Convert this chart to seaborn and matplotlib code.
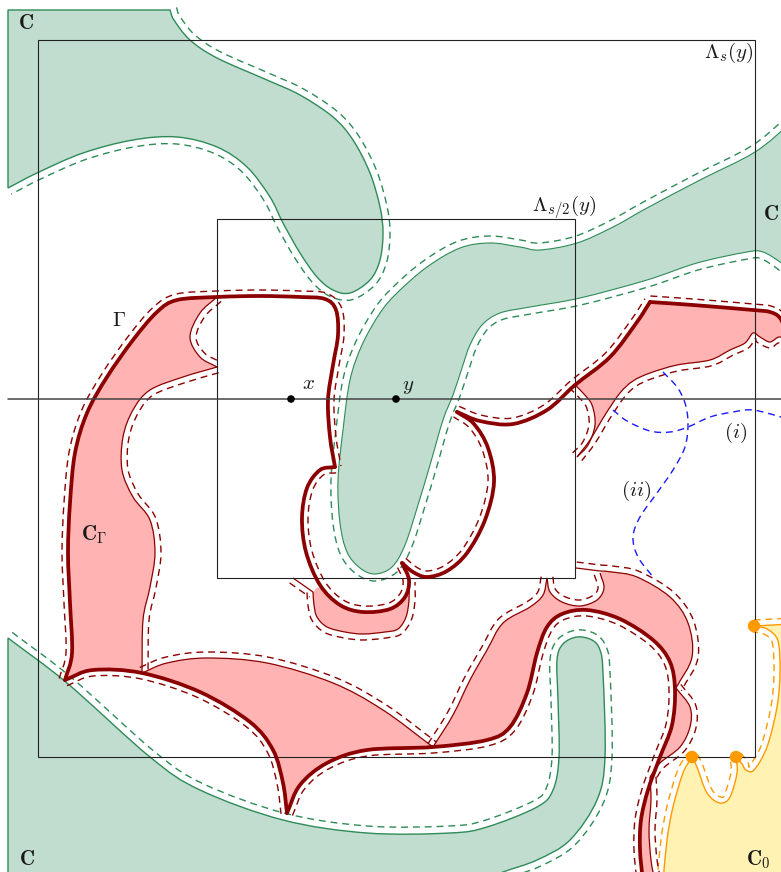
import numpy as np
import matplotlib
matplotlib.use("Agg")
import matplotlib.pyplot as plt
from matplotlib.path import Path
from matplotlib.patches import PathPatch
import seaborn as sns

# ====== DATA (pixel coordinates, y pointing down) ======
OUTER_BOX = (38, 40, 755, 757)
INNER_BOX = (217, 219, 575, 578)
AXIS_Y = 399
AXIS_X = [8, 781]
PT_NAMES = ["x", "y"]
PT_X = [291, 396]
DOT_X = [754, 692, 736]
DOT_Y = [626, 757, 757]

# green region C (top left)
GREEN_TOP_EDGE = [(8, 10), (170, 10)]
GREEN_TOP_CURVE = [(170, 10), (174, 20), (190, 40), (217, 58), (267, 80), (300, 95), (333, 117),
                   (353, 140), (370, 173), (380, 207), (383, 233), (380, 260), (370, 280),
                   (350, 293), (333, 290), (317, 277), (300, 253), (283, 223), (270, 197),
                   (247, 167), (217, 147), (177, 137), (133, 140), (83, 153), (37, 173), (8, 188)]
GREEN_TOP_BACK = [(8, 188), (8, 10)]
# green region C (middle band)
GREEN_MID = [(792, 122), (755, 152), (700, 180), (647, 208), (613, 227), (577, 243), (540, 250),
             (520, 247), (490, 243), (460, 248), (427, 267), (397, 293), (380, 313), (362, 345),
             (350, 380), (343, 430), (338, 480), (340, 523), (347, 552), (360, 568), (375, 574),
             (392, 567), (405, 545), (418, 505), (430, 465), (443, 420), (453, 395), (462, 368),
             (470, 345), (482, 325), (500, 313), (530, 307), (580, 298), (647, 280), (697, 263),
             (747, 252), (763, 252), (780, 262), (792, 272)]
GREEN_MID_BACK = [(792, 272), (792, 122)]
# green region C (bottom left)
GREEN_BOT = [(8, 638), (67, 683), (150, 757), (200, 790), (283, 820), (367, 833), (450, 833),
             (487, 827), (537, 807), (553, 790), (559, 757), (558, 700), (557, 660), (563, 644),
             (577, 637), (592, 640), (600, 650), (603, 673), (605, 757), (597, 800), (570, 840),
             (537, 860), (503, 872), (480, 882)]
GREEN_BOT_FLOOR = [(480, 882), (8, 882)]
GREEN_BOT_SIDE = [(8, 882), (8, 638)]

# yellow region C_0
YEL_1 = [(663, 882), (667, 840), (673, 807), (683, 773), (692, 757)]
YEL_2 = [(692, 757), (697, 767), (707, 793), (720, 803), (730, 797), (737, 773), (736, 757)]
YEL_3 = [(736, 757), (742, 764), (746, 770), (754, 770), (767, 747), (777, 707), (780, 673),
         (778, 641), (767, 629), (754, 626)]
YEL_4 = [(754, 626), (792, 624)]
YEL_SIDE = [(792, 624), (792, 882)]
YEL_FLOOR = [(792, 882), (663, 882)]

# thick curve Gamma
G_A = [(65, 680), (72, 653), (70, 603), (68, 553), (70, 503), (75, 453), (87, 413), (107, 377),
       (133, 340), (157, 312), (177, 300), (217, 297), (260, 296), (300, 297), (325, 299),
       (336, 310), (338, 335), (333, 365), (328, 400), (330, 437), (335, 467)]
G_B = [(335, 467), (320, 470), (307, 488), (302, 518), (306, 552), (320, 585), (340, 605),
       (363, 612), (390, 609), (405, 597), (409, 580), (402, 563)]
G_C = [(402, 563), (413, 572), (427, 577), (447, 571), (467, 553), (485, 520), (494, 482),
       (488, 448), (474, 424), (457, 412)]
G_D = [(457, 412), (480, 421), (513, 424), (547, 410), (575, 385), (610, 357), (637, 322), (650, 302)]
G_E = [(650, 302), (693, 305), (753, 310), (770, 312), (780, 318), (788, 335)]
G_F = [(65, 680), (93, 670), (142, 673), (200, 692), (250, 722), (273, 750), (283, 783), (287, 813)]
G_G = [(287, 813), (300, 785), (327, 763), (367, 750), (433, 747), (487, 740), (510, 727),
       (527, 693), (537, 653), (547, 627), (562, 614), (587, 610), (620, 619), (653, 640),
       (670, 662), (675, 690), (672, 725), (660, 757), (648, 790), (641, 820), (640, 850), (643, 882)]

# thin edges of C_Gamma
A_LOBE = [(217, 297), (200, 313), (190, 337), (200, 357), (217, 367)]
A_SIDE = [(217, 367), (183, 377), (150, 390), (133, 410), (123, 437), (122, 470), (133, 497),
          (150, 520), (155, 553), (150, 587), (143, 620), (142, 673)]
B_ARC = [(142, 673), (167, 663), (207, 658), (267, 663), (333, 683), (383, 710), (433, 747)]
C_SIDE = [(433, 747), (453, 715), (470, 680), (487, 650), (503, 623), (530, 607), (543, 595), (547, 578)]
C_RING = [(547, 578), (550, 592), (562, 602), (580, 606), (597, 600), (604, 588), (600, 573)]
C_LIP = [(576, 568), (600, 571)]
C_TOP = [(600, 571), (612, 572), (637, 577), (670, 597), (688, 623), (692, 657), (676, 688)]
C_BULGE = [(676, 688), (690, 707), (690, 727), (680, 747), (660, 763), (650, 777)]
C_TAIL = [(650, 777), (651, 800), (649, 830), (651, 860), (655, 882)]
C_FLOOR = [(655, 882), (643, 882)]
D_LOW = [(313, 592), (314, 605), (317, 617), (327, 627), (345, 632), (363, 634), (385, 632),
         (398, 629), (406, 617), (409, 600), (409, 582)]
D_TOP = [(409, 582), (405, 597), (390, 609), (363, 612), (340, 605), (320, 588), (313, 592)]
D_LINK = [(293, 578), (313, 592)]
E_TOP = [(575, 385), (610, 357), (637, 322), (650, 302)]
E_EDGE = [(788, 335), (792, 345)]
E_LOW = [(792, 345), (780, 337), (770, 342), (760, 337), (753, 333), (745, 343), (730, 350),
         (710, 360), (677, 365), (650, 373), (633, 381), (620, 393), (605, 415), (590, 440), (577, 457)]
E_LOBE = [(577, 457), (588, 445), (595, 425), (592, 405), (583, 393), (575, 385)]

# blue dashed paths
BLUE_I = [(613, 410), (627, 421), (650, 431), (670, 432), (688, 427), (710, 417), (733, 412),
          (753, 410), (781, 417), (792, 421)]
BLUE_II = [(663, 372), (677, 387), (685, 403), (688, 423), (685, 447), (673, 470), (657, 493),
           (640, 517), (633, 537), (638, 557), (653, 577)]

# colours
GREEN_FILL, GREEN_EDGE = "#c0ddcf", "#2e8b57"
PINK_FILL, RED = "#ffb3b3", "#8b0000"
YEL_FILL, ORANGE = "#fff2b3", "#ff9900"
BLUE = "#1a1aff"


# ====== HELPERS ======
def bez(pts):
    # catmull-rom through pts as cubic bezier control points
    P = np.asarray(pts, float)
    E = np.vstack([2 * P[0] - P[1], P, 2 * P[-1] - P[-2]])
    verts = []
    for i in range(1, len(E) - 2):
        p0, p1, p2, p3 = E[i - 1], E[i], E[i + 1], E[i + 2]
        verts += [p1 + (p2 - p0) / 6, p2 - (p3 - p1) / 6, p2]
    return verts


def make_path(pieces, closed=False):
    verts = [np.asarray(pieces[0][0], float)]
    codes = [Path.MOVETO]
    for pc in pieces:
        v = bez(pc)
        verts += v
        codes += [Path.CURVE4] * len(v)
    if closed:
        verts.append(verts[0])
        codes.append(Path.CLOSEPOLY)
    return Path(verts, codes)


def shift(pts, d):
    # move points d pixels to the (visual) left of the direction of travel
    P = np.asarray(pts, float)
    T = np.gradient(P, axis=0)
    N = np.column_stack([T[:, 1], -T[:, 0]])
    N /= np.linalg.norm(N, axis=1)[:, None]
    return P + d * N


def draw(ax, pieces, closed=False, **kw):
    ax.add_patch(PathPatch(make_path(pieces, closed), **kw))


def dashed(ax, pts, d, color, lw=1.0):
    draw(ax, [shift(pts, d)], fill=False, ec=color, lw=lw, ls=(0, (5, 3.5)))


# ====== PLOT ======
sns.set_theme(style="white")
plt.rcParams["mathtext.fontset"] = "cm"

fig = plt.figure(figsize=(7.81, 8.72), dpi=100)
ax = fig.add_axes([0, 0, 1, 1])
ax.set_xlim(0, 781)
ax.set_ylim(872, 0)
ax.axis("off")

# green C
draw(ax, [GREEN_TOP_EDGE, GREEN_TOP_CURVE, GREEN_TOP_BACK], closed=True,
     fc=GREEN_FILL, ec=GREEN_EDGE, lw=1.0)
draw(ax, [GREEN_MID, GREEN_MID_BACK], closed=True, fc=GREEN_FILL, ec=GREEN_EDGE, lw=0.8)
draw(ax, [GREEN_BOT, GREEN_BOT_FLOOR, GREEN_BOT_SIDE], closed=True,
     fc=GREEN_FILL, ec=GREEN_EDGE, lw=1.0)
dashed(ax, GREEN_TOP_CURVE, 7, GREEN_EDGE)
dashed(ax, GREEN_MID, -7, GREEN_EDGE)
dashed(ax, GREEN_BOT, 7, GREEN_EDGE)

# yellow C_0
draw(ax, [YEL_1, YEL_2, YEL_3, YEL_4, YEL_SIDE, YEL_FLOOR], closed=True, fc=YEL_FILL, ec="none")
for pc in [YEL_1, YEL_2, YEL_3, YEL_4]:
    draw(ax, [pc], fill=False, ec=ORANGE, lw=1.0)
    dashed(ax, pc, 6, ORANGE)

# pink C_Gamma
draw(ax, [G_A[:12], A_LOBE, A_SIDE, G_F[2::-1]], closed=True, fc=PINK_FILL, ec="none")
draw(ax, [B_ARC, G_G[4::-1], G_F[:1:-1]], closed=True, fc=PINK_FILL, ec="none")
draw(ax, [C_SIDE, C_RING, C_TOP, C_BULGE, C_TAIL, C_FLOOR, G_G[:3:-1]],
     closed=True, fc=PINK_FILL, ec="none")
draw(ax, [D_LOW, D_TOP], closed=True, fc=PINK_FILL, ec="none")
draw(ax, [E_TOP, G_E, E_EDGE, E_LOW, E_LOBE], closed=True, fc=PINK_FILL, ec="none")

for pc in [A_LOBE, A_SIDE, B_ARC, C_SIDE, C_RING, C_LIP, C_TOP, C_BULGE, C_TAIL, D_LOW,
           D_LINK, E_LOW, E_LOBE]:
    draw(ax, [pc], fill=False, ec=RED, lw=0.9)

for pc in [G_A, G_B, G_C, G_D, G_E, A_LOBE, A_SIDE, B_ARC, C_SIDE, C_RING, C_LIP, C_TOP,
           C_BULGE, C_TAIL, E_LOW, E_LOBE]:
    dashed(ax, pc, 6, RED)
for pc in [G_F, G_G, D_LOW, D_LINK]:
    dashed(ax, pc, -6, RED)

# blue paths (i), (ii)
for pc in [BLUE_I, BLUE_II]:
    draw(ax, [pc], fill=False, ec=BLUE, lw=1.0, ls=(0, (5, 3.5)))

# boxes and axis
for x0, y0, x1, y1 in [OUTER_BOX, INNER_BOX]:
    ax.add_patch(plt.Rectangle((x0, y0), x1 - x0, y1 - y0, fill=False, ec="#222222", lw=0.8))
sns.lineplot(x=AXIS_X, y=[AXIS_Y, AXIS_Y], ax=ax, color="#444444", lw=1.1,
             estimator=None, sort=False)

# thick Gamma
for pc in [G_A, G_B, G_C, G_D, G_E, G_F, G_G]:
    draw(ax, [pc], fill=False, ec=RED, lw=2.7, joinstyle="round", capstyle="round")

# points
sns.scatterplot(x=PT_X, y=[AXIS_Y] * len(PT_X), ax=ax, color="black", s=30,
                edgecolor="none", zorder=5)
sns.scatterplot(x=DOT_X, y=DOT_Y, ax=ax, color=ORANGE, s=80, edgecolor="none", zorder=5)

# labels
txt = dict(fontsize=15, color="#1a1a1a", ha="center", va="center")
ax.text(26, 23, r"$\mathbf{C}$", **txt)
ax.text(27, 859, r"$\mathbf{C}$", **txt)
ax.text(771, 214, r"$\mathbf{C}$", **txt)
ax.text(758, 860, r"$\mathbf{C}_0$", **txt)
ax.text(729, 53, r"$\Lambda_s(y)$", **txt)
ax.text(564, 208, r"$\Lambda_{s/2}(y)$", **txt)
ax.text(119, 320, r"$\Gamma$", **txt)
ax.text(94, 535, r"$\mathbf{C}_\Gamma$", **txt)
ax.text(308, 383, r"$x$", **txt)
ax.text(408, 386, r"$y$", **txt)
ax.text(736, 433, r"$(i)$", **txt)
ax.text(636, 491, r"$(ii)$", **txt)

fig.savefig("out.png", dpi=100)
